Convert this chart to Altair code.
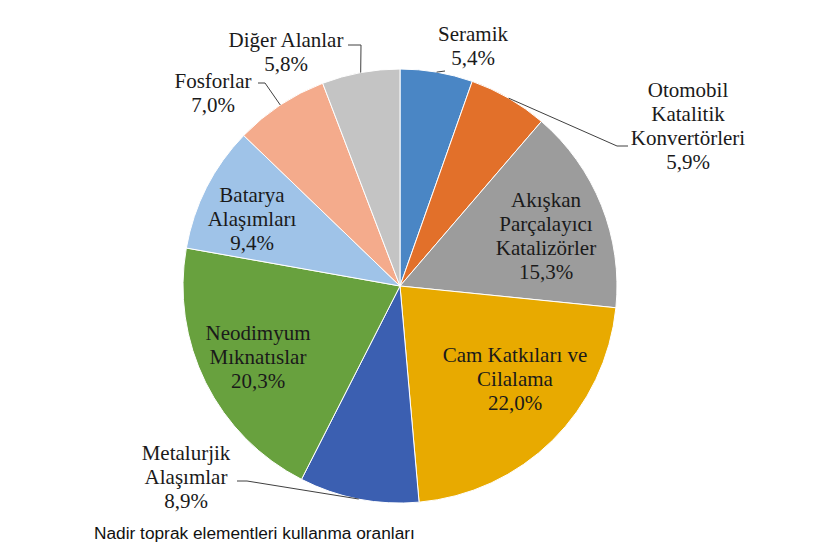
import math
import altair as alt
import pandas as pd

# ---- data ----
categories = ["Seramik", "Otomobil Katalitik Konvertörleri", "Akışkan Parçalayıcı Katalizörler",
              "Cam Katkıları ve Cilalama", "Metalurjik Alaşımlar", "Neodimyum Mıknatıslar",
              "Batarya Alaşımları", "Fosforlar", "Diğer Alanlar"]
values = [5.4, 5.9, 15.3, 22.0, 8.9, 20.3, 9.4, 7.0, 5.8]
label_names = ["Seramik", "Otomobil\nKatalitik\nKonvertörleri", "Akışkan\nParçalayıcı\nKatalizörler",
               "Cam Katkıları ve\nCilalama", "Metalurjik\nAlaşımlar", "Neodimyum\nMıknatıslar",
               "Batarya\nAlaşımları", "Fosforlar", "Diğer Alanlar"]
caption = "Nadir toprak elementleri kullanma oranları"

# ---- style / layout ----
colors = ["#4a86c5", "#e2702a", "#9c9c9c", "#e8aa00", "#3b5fb1", "#68a13e", "#9fc3e8", "#f4ab8c", "#c4c4c4"]
R = 217
W, H = 824, 505
CX, CY = 392, 278  # pie centre inside plot area
LH = 24
SERIF = "'Liberation Serif', 'Times New Roman', 'DejaVu Serif', serif"
# label block centres, offsets from pie centre (px, y down)
label_offsets = [(73, -239), (288, -159.5), (146, -49.5), (115, 93.5), (-214, 191.5),
                 (-142, 72), (-148, -66), (-187, -192.5), (-114, -233.5)]
# leader lines: category index -> [elbow, end] offsets from pie centre
leaders = {0: [(45, -215)], 1: [(217, -140), (228, -140)], 4: [(-153, 195), (-163, 195)],
           7: [(-135, -203), (-142, -203)], 8: [(-39, -241), (-52, -241)]}

def pct(v):
    return f"{v:.1f}".replace(".", ",") + "%"

df = pd.DataFrame({"cat": categories, "value": values, "idx": list(range(len(values)))})
texts = [n + "\n" + pct(v) for n, v in zip(label_names, values)]
df["text"] = texts
df["lx"] = [o[0] for o in label_offsets]
# anchor of first line so that the whole block is centred on the offset
df["ly"] = [o[1] - (t.count("\n")) * LH / 2 for o, t in zip(label_offsets, texts)]

total = sum(values)
cum = 0
mids = []
for v in values:
    mids.append((cum + v / 2) / total * 2 * math.pi)
    cum += v

rows = []
for i, pts in leaders.items():
    a = mids[i]
    rows.append({"cat": categories[i], "seq": 0, "x": R * math.sin(a), "y": -R * math.cos(a)})
    for k, (px, py) in enumerate(pts):
        rows.append({"cat": categories[i], "seq": k + 1, "x": px, "y": py})
ldf = pd.DataFrame(rows)

xs = alt.Scale(domain=[-CX, W - CX])
ys = alt.Scale(domain=[-CY, H - CY], reverse=True)

arcs = alt.Chart(df).mark_arc(radius=R, stroke="white", strokeWidth=1).encode(
    theta=alt.Theta("value:Q", stack=True),
    order=alt.Order("idx:Q"),
    color=alt.Color("cat:N", scale=alt.Scale(domain=categories, range=colors), legend=None),
    x=alt.XDatum(0, type="quantitative", scale=xs, axis=None),
    y=alt.YDatum(0, type="quantitative", scale=ys, axis=None),
)

lines = alt.Chart(ldf).mark_line(color="#404040", strokeWidth=1).encode(
    x=alt.X("x:Q", scale=xs, axis=None),
    y=alt.Y("y:Q", scale=ys, axis=None),
    detail="cat:N",
    order=alt.Order("seq:Q"),
)

labels = alt.Chart(df).mark_text(font=SERIF, fontSize=21, lineHeight=LH, lineBreak="\n",
                                  align="center", baseline="middle", color="#1a1a1a").encode(
    x=alt.X("lx:Q", scale=xs, axis=None),
    y=alt.Y("ly:Q", scale=ys, axis=None),
    text="text:N",
)

chart = alt.layer(arcs, lines, labels).properties(
    width=W, height=H,
    padding=0,
    background="white",
    autosize=alt.AutoSizeParams(type="pad"),
    title=alt.TitleParams(caption, orient="bottom", anchor="start", frame="group",
                          font="'Liberation Sans', Arial, sans-serif",
                          fontSize=17.3, fontWeight="normal", color="#111111", dx=86, offset=12),
).configure_view(stroke=None)

chart.save("out.html", embed_options={"renderer": "svg", "actions": False})
